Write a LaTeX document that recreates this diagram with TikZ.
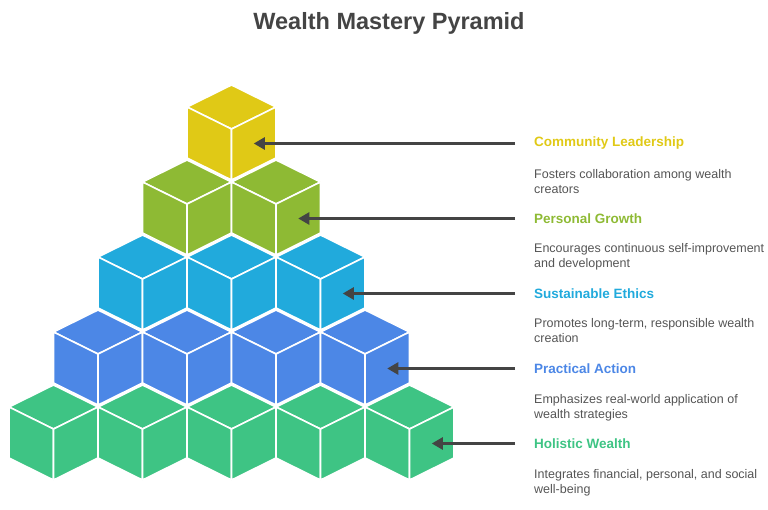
\documentclass[tikz,border=0pt]{standalone}
\usepackage{fontspec}
\setmainfont{Liberation Sans}
\usepackage{xcolor}
\usepackage{tikz}
\usetikzlibrary{arrows.meta}

\definecolor{cYellow}{RGB}{224,201,22}
\definecolor{cOlive}{RGB}{142,186,52}
\definecolor{cCyan}{RGB}{33,170,220}
\definecolor{cBlue}{RGB}{76,135,230}
\definecolor{cGreen}{RGB}{62,196,132}
\definecolor{cText}{RGB}{68,68,68}
\definecolor{cDesc}{RGB}{85,85,85}

% one cube, given by its top corner
\newcommand{\isocube}[3]{%
  \filldraw[cubeface,fill=#3] (#1,#2) -- ++(44.5,22) -- ++(-44.5,22) -- ++(-44.5,-22) -- cycle;
  \filldraw[cubeface,fill=#3] (#1,#2) ++(-44.5,22) -- ++(44.5,22) -- ++(0,51) -- ++(-44.5,-22) -- cycle;
  \filldraw[cubeface,fill=#3] (#1,#2) ++(0,44) -- ++(44.5,-22) -- ++(0,51) -- ++(-44.5,22) -- cycle;
}

\begin{document}
\begin{tikzpicture}[x=1pt,y=-1pt,
    cubeface/.style={draw=white,line width=1.6pt,line join=round},
    head/.style={anchor=west,inner sep=0pt,font=\fontsize{13.5}{16}\selectfont\bfseries},
    desc/.style={anchor=base west,inner sep=0pt,align=left,text=cDesc,font=\fontsize{12.5}{15}\selectfont},
    pointer/.style={-{Triangle[length=11pt,width=12pt]},line width=2.4pt,draw=cText}]
  \useasboundingbox (0,0) rectangle (768,510);
  \node[text=cText,font=\fontsize{23.5}{28}\selectfont\bfseries] (title) at (389,23.5) {Wealth Mastery Pyramid};

  % pyramid, top row first so lower rows lie over it
  \foreach \r/\col in {0/cYellow,1/cOlive,2/cCyan,3/cBlue,4/cGreen} {
    \foreach \k in {0,...,\r} {
      \pgfmathsetmacro\cx{231.5-44.5*\r+89*\k}
      \pgfmathsetmacro\cy{85+75*\r}
      \isocube{\cx}{\cy}{\col}
    }
    \coordinate (f\r) at ({253.75+44.5*\r},{143.5+75*\r});
  }

  \node[head,text=cYellow] (h0) at (534,143.5) {Community Leadership};
  \node[desc] (d0) at (534,194) {Fosters collaboration among wealth\\creators};
  \node[head,text=cOlive] (h1) at (534,218.5) {Personal Growth};
  \node[desc] (d1) at (534,268) {Encourages continuous self-improvement\\and development};
  \node[head,text=cCyan] (h2) at (534,293.5) {Sustainable Ethics};
  \node[desc] (d2) at (534,343) {Promotes long-term, responsible wealth\\creation};
  \node[head,text=cBlue] (h3) at (534,368.5) {Practical Action};
  \node[desc] (d3) at (534,418) {Emphasizes real-world application of\\wealth strategies};
  \node[head,text=cGreen] (h4) at (534,443.5) {Holistic Wealth};
  \node[desc] (d4) at (534,493) {Integrates financial, personal, and social\\well-being};

  \foreach \i in {0,...,4} \draw[pointer] ([xshift=-19pt]h\i.west) -- (f\i);
\end{tikzpicture}
\end{document}
